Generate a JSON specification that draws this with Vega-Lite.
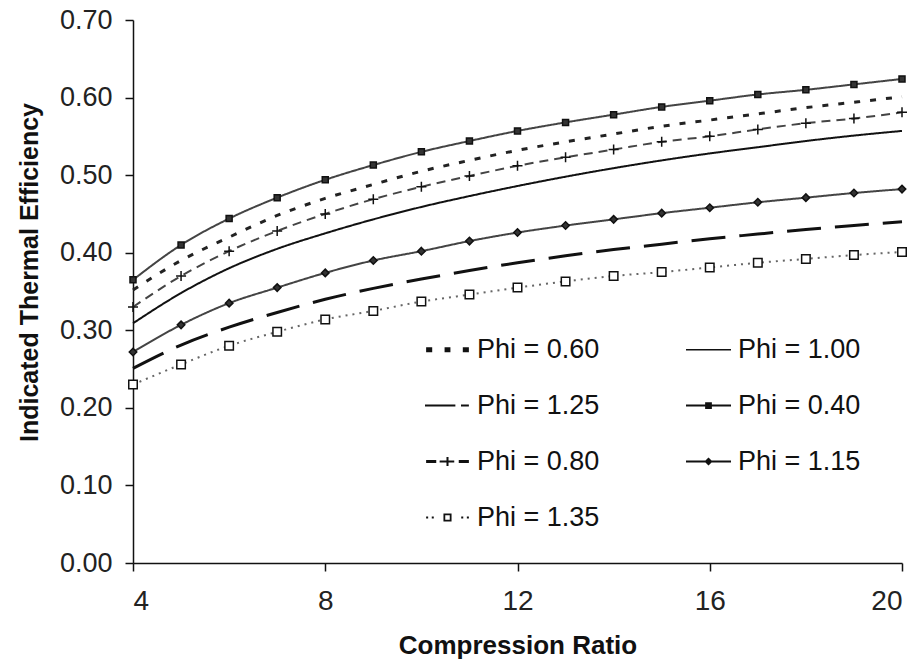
{
  "$schema": "https://vega.github.io/schema/vega-lite/v6.json",
  "width": 769,
  "height": 543,
  "autosize": {"type": "none"},
  "padding": {"left": 133, "top": 20, "right": 20, "bottom": 100},
  "background": "white",
  "config": {
    "view": {"stroke": null},
    "font": "Liberation Sans",
    "axis": {
      "grid": false,
      "domainColor": "#111",
      "domainWidth": 1.5,
      "tickColor": "#111",
      "tickWidth": 1.5,
      "tickSize": 8,
      "labelFont": "Liberation Sans",
      "labelColor": "#222",
      "titleFont": "Liberation Sans",
      "titleFontSize": 26,
      "titleFontWeight": "bold",
      "titleColor": "#111"
    }
  },
  "data": {
    "values": [
      {"phi": "0.40", "cr": 4, "eff": 0.365}, {"phi": "0.40", "cr": 5, "eff": 0.410}, {"phi": "0.40", "cr": 6, "eff": 0.444}, {"phi": "0.40", "cr": 7, "eff": 0.471}, {"phi": "0.40", "cr": 8, "eff": 0.494}, {"phi": "0.40", "cr": 9, "eff": 0.513}, {"phi": "0.40", "cr": 10, "eff": 0.530}, {"phi": "0.40", "cr": 11, "eff": 0.544}, {"phi": "0.40", "cr": 12, "eff": 0.557}, {"phi": "0.40", "cr": 13, "eff": 0.568}, {"phi": "0.40", "cr": 14, "eff": 0.578}, {"phi": "0.40", "cr": 15, "eff": 0.588}, {"phi": "0.40", "cr": 16, "eff": 0.596}, {"phi": "0.40", "cr": 17, "eff": 0.604}, {"phi": "0.40", "cr": 18, "eff": 0.610}, {"phi": "0.40", "cr": 19, "eff": 0.617}, {"phi": "0.40", "cr": 20, "eff": 0.624},
      {"phi": "0.60", "cr": 4, "eff": 0.352}, {"phi": "0.60", "cr": 5, "eff": 0.390}, {"phi": "0.60", "cr": 6, "eff": 0.420}, {"phi": "0.60", "cr": 7, "eff": 0.448}, {"phi": "0.60", "cr": 8, "eff": 0.470}, {"phi": "0.60", "cr": 9, "eff": 0.488}, {"phi": "0.60", "cr": 10, "eff": 0.505}, {"phi": "0.60", "cr": 11, "eff": 0.519}, {"phi": "0.60", "cr": 12, "eff": 0.532}, {"phi": "0.60", "cr": 13, "eff": 0.543}, {"phi": "0.60", "cr": 14, "eff": 0.553}, {"phi": "0.60", "cr": 15, "eff": 0.563}, {"phi": "0.60", "cr": 16, "eff": 0.571}, {"phi": "0.60", "cr": 17, "eff": 0.579}, {"phi": "0.60", "cr": 18, "eff": 0.587}, {"phi": "0.60", "cr": 19, "eff": 0.594}, {"phi": "0.60", "cr": 20, "eff": 0.601},
      {"phi": "0.80", "cr": 4, "eff": 0.330}, {"phi": "0.80", "cr": 5, "eff": 0.370}, {"phi": "0.80", "cr": 6, "eff": 0.402}, {"phi": "0.80", "cr": 7, "eff": 0.428}, {"phi": "0.80", "cr": 8, "eff": 0.450}, {"phi": "0.80", "cr": 9, "eff": 0.469}, {"phi": "0.80", "cr": 10, "eff": 0.485}, {"phi": "0.80", "cr": 11, "eff": 0.499}, {"phi": "0.80", "cr": 12, "eff": 0.512}, {"phi": "0.80", "cr": 13, "eff": 0.523}, {"phi": "0.80", "cr": 14, "eff": 0.533}, {"phi": "0.80", "cr": 15, "eff": 0.543}, {"phi": "0.80", "cr": 16, "eff": 0.550}, {"phi": "0.80", "cr": 17, "eff": 0.559}, {"phi": "0.80", "cr": 18, "eff": 0.567}, {"phi": "0.80", "cr": 19, "eff": 0.573}, {"phi": "0.80", "cr": 20, "eff": 0.581},
      {"phi": "1.00", "cr": 4, "eff": 0.309}, {"phi": "1.00", "cr": 5, "eff": 0.348}, {"phi": "1.00", "cr": 6, "eff": 0.380}, {"phi": "1.00", "cr": 7, "eff": 0.405}, {"phi": "1.00", "cr": 8, "eff": 0.425}, {"phi": "1.00", "cr": 9, "eff": 0.443}, {"phi": "1.00", "cr": 10, "eff": 0.459}, {"phi": "1.00", "cr": 11, "eff": 0.473}, {"phi": "1.00", "cr": 12, "eff": 0.486}, {"phi": "1.00", "cr": 13, "eff": 0.498}, {"phi": "1.00", "cr": 14, "eff": 0.509}, {"phi": "1.00", "cr": 15, "eff": 0.519}, {"phi": "1.00", "cr": 16, "eff": 0.528}, {"phi": "1.00", "cr": 17, "eff": 0.536}, {"phi": "1.00", "cr": 18, "eff": 0.544}, {"phi": "1.00", "cr": 19, "eff": 0.551}, {"phi": "1.00", "cr": 20, "eff": 0.557},
      {"phi": "1.15", "cr": 4, "eff": 0.272}, {"phi": "1.15", "cr": 5, "eff": 0.307}, {"phi": "1.15", "cr": 6, "eff": 0.335}, {"phi": "1.15", "cr": 7, "eff": 0.355}, {"phi": "1.15", "cr": 8, "eff": 0.374}, {"phi": "1.15", "cr": 9, "eff": 0.390}, {"phi": "1.15", "cr": 10, "eff": 0.402}, {"phi": "1.15", "cr": 11, "eff": 0.415}, {"phi": "1.15", "cr": 12, "eff": 0.426}, {"phi": "1.15", "cr": 13, "eff": 0.435}, {"phi": "1.15", "cr": 14, "eff": 0.443}, {"phi": "1.15", "cr": 15, "eff": 0.451}, {"phi": "1.15", "cr": 16, "eff": 0.458}, {"phi": "1.15", "cr": 17, "eff": 0.465}, {"phi": "1.15", "cr": 18, "eff": 0.471}, {"phi": "1.15", "cr": 19, "eff": 0.477}, {"phi": "1.15", "cr": 20, "eff": 0.482},
      {"phi": "1.25", "cr": 4, "eff": 0.251}, {"phi": "1.25", "cr": 5, "eff": 0.281}, {"phi": "1.25", "cr": 6, "eff": 0.304}, {"phi": "1.25", "cr": 7, "eff": 0.323}, {"phi": "1.25", "cr": 8, "eff": 0.340}, {"phi": "1.25", "cr": 9, "eff": 0.354}, {"phi": "1.25", "cr": 10, "eff": 0.366}, {"phi": "1.25", "cr": 11, "eff": 0.377}, {"phi": "1.25", "cr": 12, "eff": 0.387}, {"phi": "1.25", "cr": 13, "eff": 0.396}, {"phi": "1.25", "cr": 14, "eff": 0.404}, {"phi": "1.25", "cr": 15, "eff": 0.411}, {"phi": "1.25", "cr": 16, "eff": 0.418}, {"phi": "1.25", "cr": 17, "eff": 0.424}, {"phi": "1.25", "cr": 18, "eff": 0.430}, {"phi": "1.25", "cr": 19, "eff": 0.435}, {"phi": "1.25", "cr": 20, "eff": 0.440},
      {"phi": "1.35", "cr": 4, "eff": 0.230}, {"phi": "1.35", "cr": 5, "eff": 0.256}, {"phi": "1.35", "cr": 6, "eff": 0.280}, {"phi": "1.35", "cr": 7, "eff": 0.298}, {"phi": "1.35", "cr": 8, "eff": 0.314}, {"phi": "1.35", "cr": 9, "eff": 0.325}, {"phi": "1.35", "cr": 10, "eff": 0.337}, {"phi": "1.35", "cr": 11, "eff": 0.346}, {"phi": "1.35", "cr": 12, "eff": 0.355}, {"phi": "1.35", "cr": 13, "eff": 0.363}, {"phi": "1.35", "cr": 14, "eff": 0.370}, {"phi": "1.35", "cr": 15, "eff": 0.375}, {"phi": "1.35", "cr": 16, "eff": 0.381}, {"phi": "1.35", "cr": 17, "eff": 0.387}, {"phi": "1.35", "cr": 18, "eff": 0.392}, {"phi": "1.35", "cr": 19, "eff": 0.397}, {"phi": "1.35", "cr": 20, "eff": 0.401}
    ]
  },
  "encoding": {
    "x": {
      "field": "cr",
      "type": "quantitative",
      "scale": {"domain": [4, 20], "nice": false, "zero": false},
      "axis": {"values": [4, 8, 12, 16, 20], "title": "Compression Ratio", "labelFontSize": 28, "labelPadding": 16, "titlePadding": 17}
    },
    "y": {
      "field": "eff",
      "type": "quantitative",
      "scale": {"domain": [0, 0.7], "nice": false},
      "axis": {"values": [0, 0.1, 0.2, 0.3, 0.4, 0.5, 0.6, 0.7], "format": ".2f", "title": "Indicated Thermal Efficiency", "titleFontSize": 25, "titleY": 252, "labelFontSize": 27, "labelPadding": 13, "titlePadding": 17}
    }
  },
  "layer": [
    {
      "transform": [{"filter": {"field": "phi", "oneOf": ["0.40", "0.80", "1.00", "1.15", "1.35"]}}],
      "mark": {"type": "line", "interpolate": "monotone", "strokeWidth": 2},
      "encoding": {
        "strokeDash": {
          "field": "phi", "type": "nominal",
          "scale": {"domain": ["0.60", "1.00", "1.25", "0.40", "0.80", "1.15", "1.35"], "range": [[6, 10], [1, 0], [34, 14], [1, 0], [9, 6], [1, 0], [2, 5]]},
          "legend": null
        },
        "stroke": {
          "field": "phi", "type": "nominal",
          "scale": {"domain": ["0.60", "1.00", "1.25", "0.40", "0.80", "1.15", "1.35"], "range": ["#222222", "#111111", "#111111", "#444444", "#444444", "#444444", "#666666"]},
          "legend": null
        }
      }
    },
    {
      "transform": [{"filter": {"field": "phi", "oneOf": ["0.60", "1.25"]}}],
      "mark": {"type": "line", "interpolate": "monotone", "strokeWidth": 3},
      "encoding": {
        "strokeDash": {"field": "phi", "type": "nominal", "legend": null},
        "stroke": {"field": "phi", "type": "nominal", "legend": null}
      }
    },
    {
      "transform": [{"filter": {"field": "phi", "oneOf": ["0.40", "0.80", "1.15", "1.35"]}}],
      "mark": {"type": "point", "opacity": 1, "size": 100, "stroke": "#111111", "strokeWidth": 1.5},
      "encoding": {
        "shape": {
          "field": "phi", "type": "nominal",
          "scale": {"domain": ["0.40", "0.80", "1.15", "1.35"], "range": ["M-0.6,-0.6H0.6V0.6H-0.6Z", "M-1,0H1M0,-1V1", "M0,-0.75L0.75,0L0,0.75L-0.75,0Z", "M-0.85,-0.85H0.85V0.85H-0.85Z"]},
          "legend": null
        },
        "fill": {
          "field": "phi", "type": "nominal",
          "scale": {"domain": ["0.40", "0.80", "1.15", "1.35"], "range": ["#333333", "#333333", "#333333", "#ffffff"]},
          "legend": null
        }
      }
    },
    {
      "transform": [{"filter": "datum.cr < 0"}],
      "mark": {"type": "point", "filled": true, "opacity": 1, "size": 2025, "fill": "#111111", "strokeWidth": 0},
      "encoding": {
        "shape": {
          "field": "phi", "type": "nominal",
          "scale": {
            "domain": ["0.60", "1.25", "0.80", "1.35", "1.00", "0.40", "1.15"],
            "range": [
              "M-0.95,-0.11H-0.68V0.11H-0.95ZM-0.13,-0.11H0.13V0.11H-0.13ZM0.68,-0.11H0.95V0.11H0.68Z",
              "M-1,-0.045H0.35V0.045H-1ZM0.6,-0.045H0.95V0.045H0.6Z",
              "M-0.95,-0.07H-0.5V0.07H-0.95ZM0.5,-0.07H0.95V0.07H0.5ZM-0.35,-0.045H0.3V0.045H-0.35ZM-0.045,-0.2H0.045V0.2H-0.045Z",
              "M-0.95,-0.045H-0.86V0.045H-0.95ZM-0.7,-0.045H-0.61V0.045H-0.7ZM0.61,-0.045H0.7V0.045H0.61ZM0.86,-0.045H0.95V0.045H0.86ZM-0.18,-0.18H0.18V0.18H-0.18ZM-0.1,-0.1V0.1H0.1V-0.1Z",
              "M-1,-0.035H1V0.035H-1Z",
              "M-1,-0.04H1V0.04H-1ZM-0.15,-0.15H0.15V0.15H-0.15Z",
              "M-1,-0.04H1V0.04H-1ZM0,-0.18L0.18,0L0,0.18L-0.18,0Z"
            ]
          },
          "legend": {
            "title": null,
            "orient": "none",
            "legendX": 292,
            "legendY": 307,
            "columns": 2,
            "columnPadding": 86,
            "rowPadding": 20,
            "padding": 0,
            "symbolSize": 2025,
            "symbolStrokeWidth": 0,
            "symbolFillColor": "#111111",
            "labelExpr": "'Phi = ' + datum.label",
            "labelFont": "Liberation Sans",
            "labelFontSize": 27,
            "labelColor": "#111111",
            "labelOffset": 7,
            "labelLimit": 300,
            "encode": {
              "symbols": {
                "update": {
                  "fill": {"value": "#111111"},
                  "opacity": {"value": 1}
                }
              }
            }
          }
        }
      }
    }
  ],
  "resolve": {"scale": {"shape": "independent"}}
}
